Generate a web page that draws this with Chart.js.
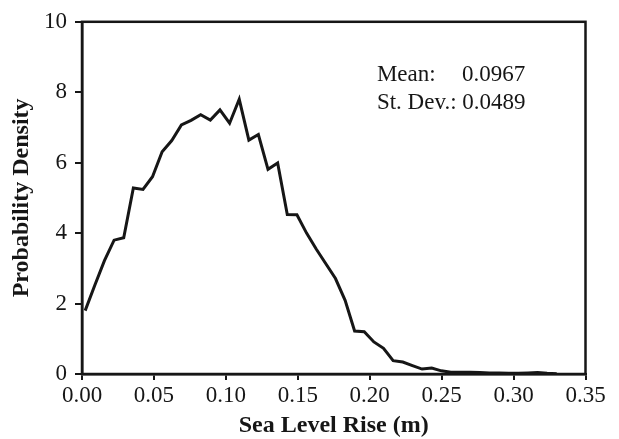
<!DOCTYPE html>
<html>
<head>
<meta charset="utf-8">
<script src="https://cdn.jsdelivr.net/npm/chart.js@4.4.0/dist/chart.umd.min.js"></script>
<style>
  html, body { margin: 0; padding: 0; background: #fff; }
  #wrap { width: 619px; height: 439px; }
</style>
</head>
<body>
<div id="wrap"><canvas id="chart" width="619" height="439"></canvas></div>
<script>
// sea level rise (m) at each histogram bin
const seaLevelRise = [
  0.0022, 0.0089, 0.0156, 0.0223, 0.0290, 0.0357, 0.0424, 0.0490, 0.0557, 0.0624,
  0.0691, 0.0758, 0.0825, 0.0892, 0.0959, 0.1026, 0.1093, 0.1160, 0.1226, 0.1293,
  0.1360, 0.1427, 0.1494, 0.1561, 0.1628, 0.1695, 0.1762, 0.1829, 0.1895, 0.1962,
  0.2029, 0.2096, 0.2163, 0.2230, 0.2297, 0.2364, 0.2431, 0.2498, 0.2564, 0.2631,
  0.2698, 0.2765, 0.2832, 0.2899, 0.2966, 0.3033, 0.3100, 0.3167, 0.3233, 0.3300
];
// probability density
const density = [
  1.80, 2.52, 3.22, 3.80, 3.87, 5.28, 5.24, 5.60, 6.31, 6.63,
  7.07, 7.20, 7.36, 7.21, 7.50, 7.12, 7.80, 6.64, 6.80, 5.81,
  5.99, 4.53, 4.52, 4.00, 3.55, 3.13, 2.71, 2.09, 1.22, 1.20,
  0.91, 0.73, 0.38, 0.34, 0.24, 0.14, 0.17, 0.09, 0.05, 0.05,
  0.05, 0.04, 0.03, 0.03, 0.02, 0.02, 0.03, 0.04, 0.02, 0.01
];
const xRange = [0, 0.35];
const xStep = 0.05;
const yRange = [0, 10];
const yStep = 2;
const statLabels = ['Mean:', 'St. Dev.:'];
const statValues = ['0.0967', '0.0489'];

const serif = '"Liberation Serif", "Times New Roman", serif';
const ink = '#161616';

// box round the plot area plus the mean / st.dev. note
const framePlugin = {
  id: 'frame',
  afterDraw(chart) {
    const { ctx, chartArea: a, scales } = chart;
    ctx.save();
    ctx.strokeStyle = ink;
    ctx.lineWidth = 2.5;
    ctx.strokeRect(a.left, a.top, a.right - a.left, a.bottom - a.top);

    ctx.fillStyle = ink;
    ctx.font = '23px ' + serif;
    ctx.textBaseline = 'alphabetic';
    const x0 = scales.x.getPixelForValue(0.205);
    const y1 = scales.y.getPixelForValue(8.32);
    const y2 = scales.y.getPixelForValue(7.52);
    ctx.fillText(statLabels[0], x0, y1);
    ctx.fillText(statValues[0], scales.x.getPixelForValue(0.2641), y1);
    ctx.fillText(statLabels[1] + ' ' + statValues[1], x0, y2);
    ctx.restore();
  }
};

const points = seaLevelRise.map((x, i) => ({ x: x, y: density[i] }));

new Chart(document.getElementById('chart'), {
  type: 'line',
  data: {
    datasets: [{
      data: points,
      borderColor: ink,
      borderWidth: 3,
      pointRadius: 0,
      tension: 0,
      fill: false,
      borderJoinStyle: 'miter'
    }]
  },
  options: {
    responsive: false,
    animation: false,
    layout: { padding: { left: 9, top: 20.5, right: 33.5, bottom: 0 } },
    plugins: { legend: { display: false }, tooltip: { enabled: false } },
    scales: {
      x: {
        type: 'linear',
        min: xRange[0],
        max: xRange[1],
        afterFit: (s) => { s.height = 65; },
        border: { color: ink, width: 2.5 },
        grid: { drawOnChartArea: false, drawTicks: true, tickLength: 6, color: ink, lineWidth: 2 },
        ticks: {
          stepSize: xStep,
          autoSkip: false,
          maxRotation: 0,
          padding: 2,
          color: ink,
          font: { family: serif, size: 23 },
          callback: (v) => Number(v).toFixed(2)
        },
        title: {
          display: true,
          text: 'Sea Level Rise (m)',
          color: ink,
          padding: { top: 0, bottom: 0 },
          font: { family: serif, size: 24, weight: 'bold', lineHeight: 1.1 }
        }
      },
      y: {
        min: yRange[0],
        max: yRange[1],
        afterFit: (s) => { s.width = 73; },
        border: { color: ink, width: 2.5 },
        grid: { drawOnChartArea: false, drawTicks: true, tickLength: 7, color: ink, lineWidth: 2 },
        ticks: {
          stepSize: yStep,
          padding: 8,
          color: ink,
          font: { family: serif, size: 23 }
        },
        title: {
          display: true,
          text: 'Probability Density',
          color: ink,
          padding: { top: 0, bottom: 0 },
          font: { family: serif, size: 24, weight: 'bold', lineHeight: 1.1 }
        }
      }
    }
  },
  plugins: [framePlugin]
});
</script>
</body>
</html>
